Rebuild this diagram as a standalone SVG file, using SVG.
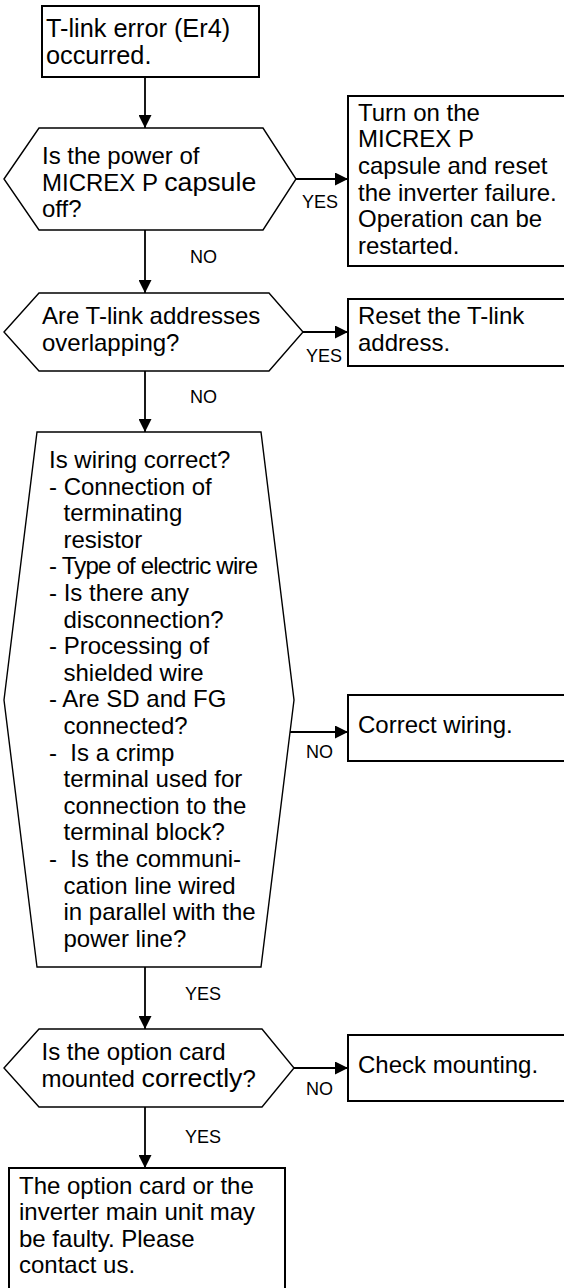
<svg xmlns="http://www.w3.org/2000/svg" width="564" height="1288" viewBox="0 0 564 1288">
  <style>
    text { font-family: "Liberation Sans", Arial, sans-serif; fill: #000; }
    .t { font-size: 24px; }
    .t19 { font-size: 25.3px; }
    .big { font-size: 26.7px; }
    .lbl { font-size: 18px; }
    .box { fill: #fff; stroke: #000; stroke-width: 2; }
    .dec { fill: #fff; stroke: #000; stroke-width: 1.4; stroke-linejoin: miter; }
    .edge { fill: none; stroke: #000; stroke-width: 1.8; marker-end: url(#arrow); }
  </style>
  <defs>
    <marker id="arrow" markerUnits="userSpaceOnUse" markerWidth="13" markerHeight="13" refX="13" refY="6.5" orient="auto">
      <path d="M0,0 L13,6.5 L0,13 z" fill="#000"/>
    </marker>
  </defs>
  <rect width="564" height="1288" fill="#fff"/>

  <!-- connectors -->
  <g id="connectors">
    <line class="edge" x1="145" y1="77" x2="145" y2="128"/>
    <line class="edge" x1="296" y1="179" x2="348" y2="179"/>
    <line class="edge" x1="145" y1="230" x2="145" y2="293"/>
    <line class="edge" x1="303" y1="332" x2="348" y2="332"/>
    <line class="edge" x1="145" y1="371" x2="145" y2="432"/>
    <line class="edge" x1="290" y1="732" x2="348" y2="732"/>
    <line class="edge" x1="145" y1="967" x2="145" y2="1029"/>
    <line class="edge" x1="294" y1="1068" x2="348" y2="1068"/>
    <line class="edge" x1="145" y1="1107" x2="145" y2="1168"/>
    <text class="lbl" x="302" y="208">YES</text>
    <text class="lbl" x="190" y="263">NO</text>
    <text class="lbl" x="306" y="362">YES</text>
    <text class="lbl" x="190" y="403">NO</text>
    <text class="lbl" x="306" y="758">NO</text>
    <text class="lbl" x="185" y="1000">YES</text>
    <text class="lbl" x="306" y="1095">NO</text>
    <text class="lbl" x="185" y="1143">YES</text>
  </g>

  <!-- start -->
  <g id="start">
    <rect class="box" x="42" y="6" width="217" height="71"/>
    <text class="t19" x="46" y="37">T-link error (Er4)</text>
    <text class="t19" x="46" y="63.5">occurred.</text>
  </g>

  <!-- decision: capsule power -->
  <g id="q-power">
    <polygon class="dec" points="4,179 39,128 263,128 296,179 263,230 39,230"/>
    <text class="t" x="42" y="164">Is the power of</text>
    <text class="t" x="42" y="190.6">MICREX P <tspan class="big">capsule</tspan></text>
    <text class="t" x="42" y="217.2">off?</text>
  </g>

  <g id="a-power">
    <rect class="box" x="348" y="96" width="240" height="170"/>
    <text class="t" x="358" y="120.7">Turn on the</text>
    <text class="t" x="358" y="147.3">MICREX P</text>
    <text class="t" x="358" y="173.9">capsule and reset</text>
    <text class="t" x="358" y="200.5">the inverter failure.</text>
    <text class="t" x="358" y="227.1">Operation can be</text>
    <text class="t" x="358" y="253.7">restarted.</text>
  </g>

  <!-- decision: address overlap -->
  <g id="q-address">
    <polygon class="dec" points="4,332 39,293 269,293 303,332 269,371 39,371"/>
    <text class="t" x="42" y="324">Are T-link addresses</text>
    <text class="t" x="42" y="350.6">overlapping?</text>
  </g>

  <g id="a-address">
    <rect class="box" x="348" y="299" width="240" height="67"/>
    <text class="t" x="358" y="324">Reset the T-link</text>
    <text class="t" x="358" y="350.6">address.</text>
  </g>

  <!-- decision: wiring check list -->
  <g id="q-wiring">
    <polygon class="dec" points="4,700 37,432 261,432 294,700 261,967 37,967"/>
    <text class="t" x="49" y="468">Is wiring correct?</text>
    <text class="t" x="49" y="494.6">- Connection of</text>
    <text class="t" x="63.5" y="521.2">terminating</text>
    <text class="t" x="63.5" y="547.8">resistor</text>
    <text class="t" x="49" y="574.4" textLength="209" lengthAdjust="spacing">- Type of electric wire</text>
    <text class="t" x="49" y="601">- Is there any</text>
    <text class="t" x="63.5" y="627.6">disconnection?</text>
    <text class="t" x="49" y="654.2">- Processing of</text>
    <text class="t" x="63.5" y="680.8">shielded wire</text>
    <text class="t" x="49" y="707.4">- Are SD and FG</text>
    <text class="t" x="63.5" y="734">connected?</text>
    <text class="t" x="49" y="760.6" xml:space="preserve">-  Is a crimp</text>
    <text class="t" x="63.5" y="787.2">terminal used for</text>
    <text class="t" x="63.5" y="813.8">connection to the</text>
    <text class="t" x="63.5" y="840.4">terminal block?</text>
    <text class="t" x="49" y="867" xml:space="preserve">-  Is the communi-</text>
    <text class="t" x="63.5" y="893.6">cation line wired</text>
    <text class="t" x="63.5" y="920.2">in parallel with the</text>
    <text class="t" x="63.5" y="946.8">power line?</text>
  </g>

  <g id="a-wiring">
    <rect class="box" x="348" y="695" width="240" height="66"/>
    <text class="t" x="358" y="733">Correct wiring.</text>
  </g>

  <!-- decision: option card mounting -->
  <g id="q-mount">
    <polygon class="dec" points="4,1068 39,1029 262,1029 294,1068 262,1107 39,1107"/>
    <text class="t" x="41.5" y="1060">Is the option card</text>
    <text class="t" x="41.5" y="1087">mounted <tspan class="big">correctly</tspan>?</text>
  </g>

  <g id="a-mount">
    <rect class="box" x="348" y="1035" width="240" height="66"/>
    <text class="t" x="358" y="1073">Check mounting.</text>
  </g>

  <!-- end -->
  <g id="end">
    <rect class="box" x="9" y="1168" width="276" height="140"/>
    <text class="t" x="19" y="1193.5">The option card or the</text>
    <text class="t" x="19" y="1220">inverter main unit may</text>
    <text class="t" x="19" y="1246.7">be faulty. Please</text>
    <text class="t" x="19" y="1273.3">contact us.</text>
  </g>
</svg>
